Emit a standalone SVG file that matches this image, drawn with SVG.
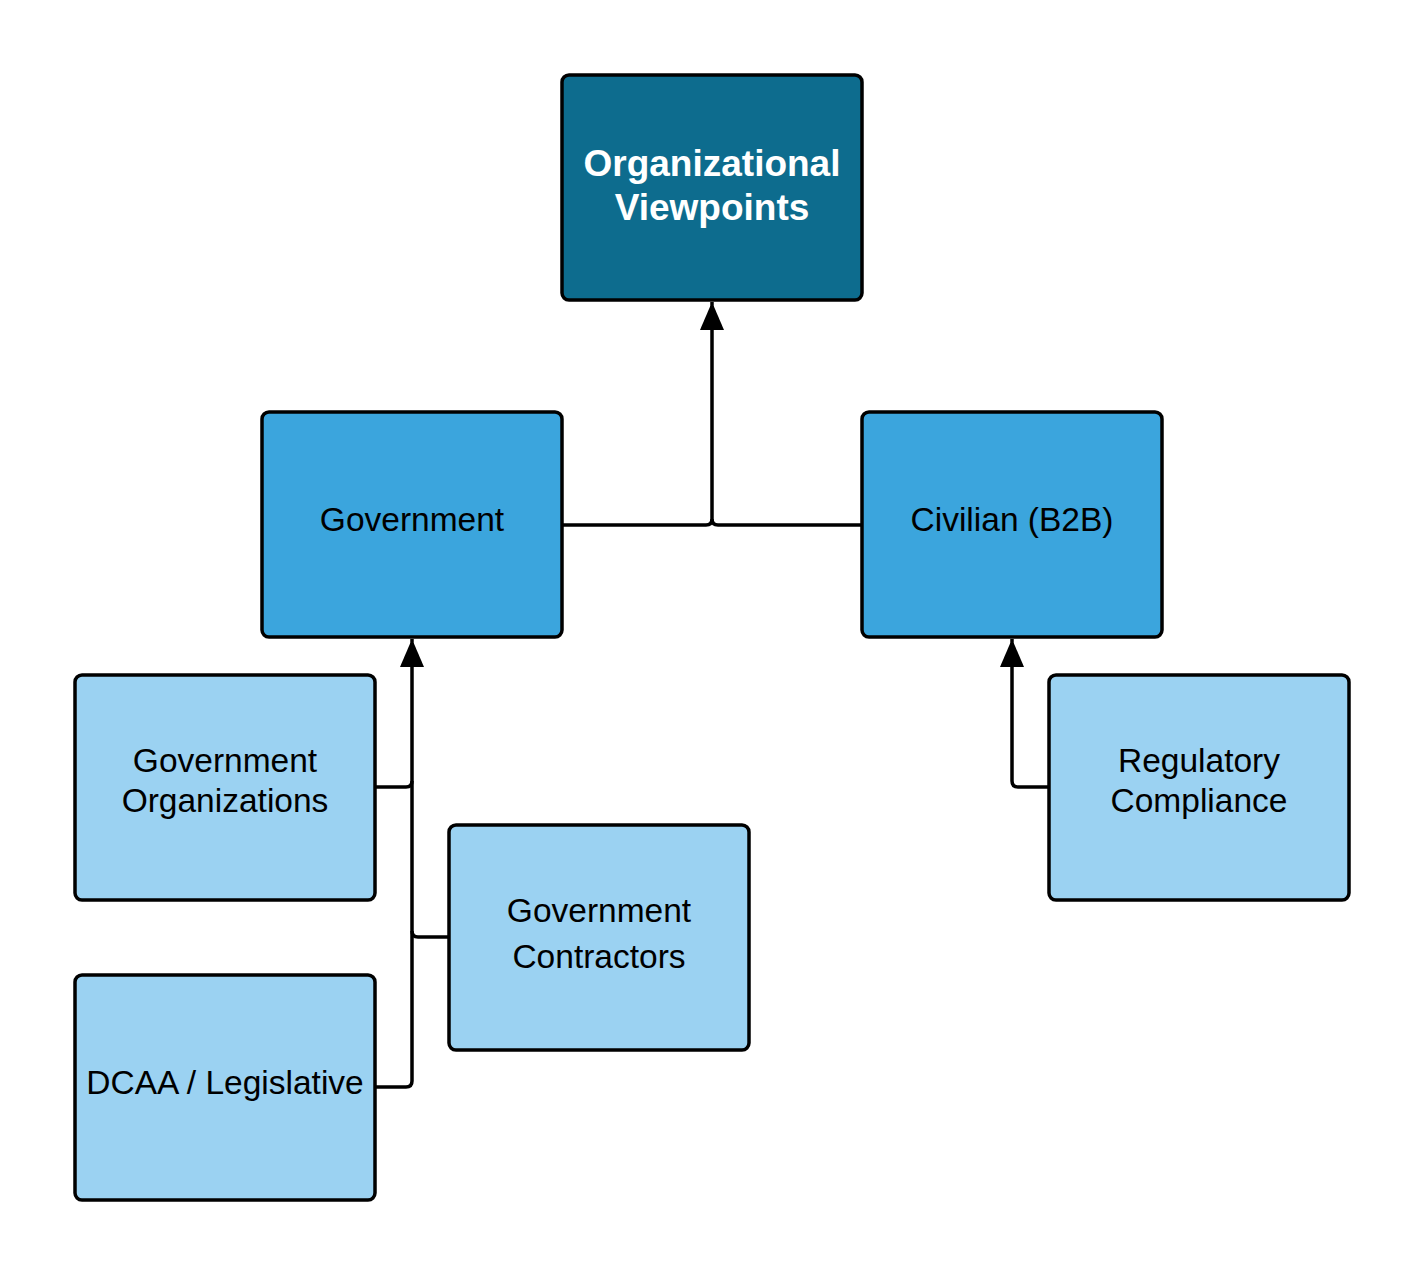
<svg xmlns="http://www.w3.org/2000/svg" width="1425" height="1275" viewBox="0 0 1425 1275">
<style>
.box{stroke:#000;stroke-width:3.5}
.top{fill:#0d6c8e}
.mid{fill:#3ba5dd}
.low{fill:#9bd2f2}
.t{font-family:"Liberation Sans",Arial,sans-serif;font-size:33.5px;fill:#000;text-anchor:middle}
.tb{font-family:"Liberation Sans",Arial,sans-serif;font-size:37px;font-weight:bold;fill:#fff;text-anchor:middle}
.c{fill:none;stroke:#000;stroke-width:3.5}
</style>
<defs>
<marker id="arr" markerUnits="userSpaceOnUse" markerWidth="24" markerHeight="30" refX="28" refY="12" orient="auto">
<path d="M0,0 L28,12 L0,24 Z" fill="#000"/>
</marker>
</defs>
<rect width="1425" height="1275" fill="#fff"/>
<g id="connectors">
<path class="c" d="M562,525 H706 Q712,525 712,519 V302" marker-end="url(#arr)"/>
<path class="c" d="M862,525 H718 Q712,525 712,519"/>
<path class="c" d="M375,1087 H406 Q412,1087 412,1081 V639" marker-end="url(#arr)"/>
<path class="c" d="M375,787 H406 Q412,787 412,781"/>
<path class="c" d="M449,937 H418 Q412,937 412,931"/>
<path class="c" d="M1049,787 H1018 Q1012,787 1012,781 V639" marker-end="url(#arr)"/>
</g>
<g id="node-org">
<rect class="box top" x="562" y="75" width="300" height="225" rx="7"/>
<text class="tb" x="712" y="176">Organizational</text>
<text class="tb" x="712" y="220">Viewpoints</text>
</g>
<g id="node-gov">
<rect class="box mid" x="262" y="412" width="300" height="225" rx="7"/>
<text class="t" x="412" y="531">Government</text>
</g>
<g id="node-civ">
<rect class="box mid" x="862" y="412" width="300" height="225" rx="7"/>
<text class="t" x="1012" y="531">Civilian (B2B)</text>
</g>
<g id="node-govorg">
<rect class="box low" x="75" y="675" width="300" height="225" rx="7"/>
<text class="t" x="225" y="772">Government</text>
<text class="t" x="225" y="812">Organizations</text>
</g>
<g id="node-govcon">
<rect class="box low" x="449" y="825" width="300" height="225" rx="7"/>
<text class="t" x="599" y="922">Government</text>
<text class="t" x="599" y="968">Contractors</text>
</g>
<g id="node-dcaa">
<rect class="box low" x="75" y="975" width="300" height="225" rx="7"/>
<text class="t" x="225" y="1094">DCAA / Legislative</text>
</g>
<g id="node-reg">
<rect class="box low" x="1049" y="675" width="300" height="225" rx="7"/>
<text class="t" x="1199" y="772">Regulatory</text>
<text class="t" x="1199" y="812">Compliance</text>
</g>
</svg>
